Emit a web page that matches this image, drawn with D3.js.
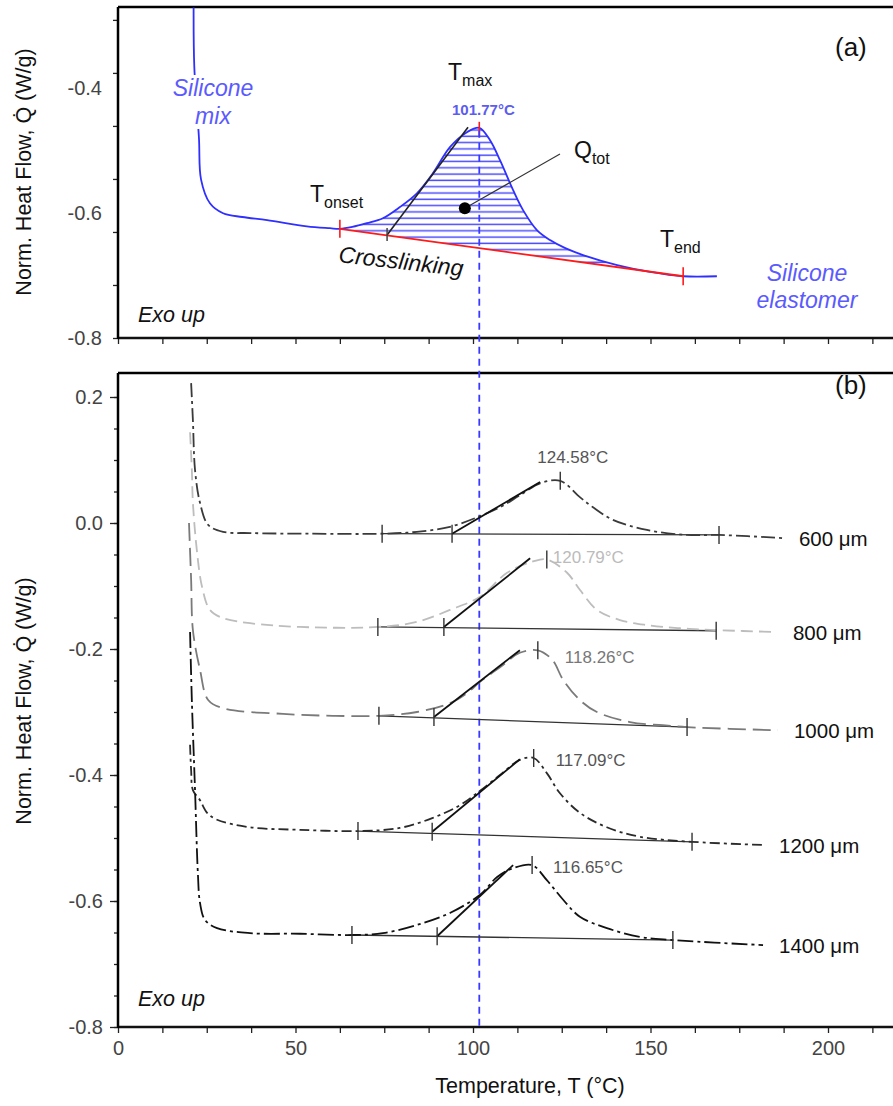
<!DOCTYPE html>
<html><head><meta charset="utf-8">
<script src="https://cdn.jsdelivr.net/npm/d3@7"></script>
<style>
body{margin:0;background:#fff}
svg{display:block}
text{font-family:"Liberation Sans",Arial,Helvetica,sans-serif}
</style>
</head><body>
<svg id="c" width="893" height="1106"></svg>
<script>
// ---------------- DATA ----------------
const xTickVals = [0,12.5,25,37.5,50,62.5,75,87.5,100,112.5,125,137.5,150,162.5,175,187.5,200,212.5];
const xTickLabels = [0,50,100,150,200];
const aYTicks = [-0.8,-0.715,-0.63,-0.545,-0.46,-0.375,-0.29];
const aYLabels = [-0.4,-0.6,-0.8];
const bYTicks = [0.2,0.15,0.1,0.05,0,-0.05,-0.1,-0.15,-0.2,-0.25,-0.3,-0.35,-0.4,-0.45,-0.5,-0.55,-0.6,-0.65,-0.7,-0.75,-0.8];
const bYLabels = [0.2,0.0,-0.2,-0.4,-0.6,-0.8];

// panel (a): silicone mix DSC curve
const aTemp = [21.3,21.5,22.8,23.4,25.9,29.6,35,42,53.2,59.7,62.5,66,70.1,74.6,79.4,84.2,88.7,93.5,98.3,101.77,104.8,107.6,111.3,114.1,118,121.7,126,131,140.6,149.9,159.2,168.7];
const aFlow = [-0.270,-0.366,-0.479,-0.546,-0.584,-0.600,-0.606,-0.611,-0.621,-0.624,-0.625,-0.622,-0.616,-0.608,-0.590,-0.568,-0.536,-0.494,-0.470,-0.463,-0.483,-0.515,-0.563,-0.595,-0.627,-0.643,-0.656,-0.667,-0.683,-0.694,-0.701,-0.701];
const aOnset = [62.5,-0.625];
const aEnd = [159.2,-0.701];
const aPeak = [101.77,-0.463];
const aTangent = [[75.8,-0.635],[98.6,-0.462]];
const aQdot = [97.7,-0.592];
const aQlead = [124.5,-0.505];

// panel (b): thickness series
const names = ["600 μm","800 μm","1000 μm","1200 μm","1400 μm"];
const peakLabels = ["124.58°C","120.79°C","118.26°C","117.09°C","116.65°C"];

const s600T = [20.6,21.1,21.7,23.1,25.4,29.6,37.2,54.1,74.4,84.2,93.5,102,107.6,113.2,118.9,124.58,130.1,133.8,139.4,149,160.3,169.3,187.3];
const s600Q = [0.222,0.163,0.084,0.032,-0.003,-0.014,-0.016,-0.017,-0.017,-0.014,-0.006,0.011,0.025,0.044,0.063,0.067,0.041,0.025,0.005,-0.011,-0.019,-0.019,-0.024];

const s800T = [20.3,20.8,21.1,22.3,23.7,25.9,29.6,37.2,51.3,73.2,84.2,93.5,102,109.6,116.9,120.79,126.5,130.1,134.9,141.4,149,158.3,168.5,185.6];
const s800Q = [0.144,0.084,0.032,-0.048,-0.102,-0.138,-0.151,-0.159,-0.165,-0.165,-0.157,-0.138,-0.117,-0.079,-0.061,-0.058,-0.079,-0.106,-0.138,-0.154,-0.162,-0.167,-0.170,-0.173];

const s1000T = [20.0,20.6,21.1,23.1,25.4,29.6,46.5,60.6,73.5,84.2,93.5,98.3,102,107.6,113.2,118.26,122.3,125.4,130.1,134.9,144.2,153.5,160.3,185.9];
const s1000Q = [0.0,-0.090,-0.170,-0.233,-0.281,-0.294,-0.303,-0.306,-0.306,-0.300,-0.286,-0.270,-0.252,-0.229,-0.206,-0.202,-0.217,-0.249,-0.281,-0.300,-0.316,-0.321,-0.324,-0.329];

const s1200T = [20.3,20.6,21.1,23.1,25.1,27.9,37.2,51.3,67.6,79.4,88.7,96.3,102,107.6,113.2,117.09,120.8,124.5,130.1,137.7,147,161.7,181.7];
const s1200Q = [-0.352,-0.392,-0.424,-0.440,-0.460,-0.471,-0.483,-0.487,-0.489,-0.484,-0.468,-0.448,-0.425,-0.400,-0.376,-0.373,-0.397,-0.429,-0.460,-0.483,-0.498,-0.506,-0.511];

const s1400T = [20.3,20.8,21.7,22.5,23.1,24.5,27.9,37.2,51.3,65.9,74.6,84.2,93.5,102,106.8,111.3,116.65,120.8,125.4,130.1,137.7,147,156.3,181.7];
const s1400Q = [-0.173,-0.281,-0.424,-0.556,-0.603,-0.630,-0.643,-0.651,-0.652,-0.654,-0.651,-0.638,-0.619,-0.590,-0.562,-0.548,-0.543,-0.567,-0.598,-0.625,-0.643,-0.657,-0.662,-0.670];

const onsetT = [74.4,73.2,73.5,67.6,65.9];
const onsetQ = [-0.017,-0.165,-0.306,-0.489,-0.654];
const endT = [169.3,168.5,160.3,161.7,156.3];
const endQ = [-0.019,-0.171,-0.324,-0.506,-0.662];
const tanT0 = [94.1,91.8,89.0,88.5,89.9];
const tanQ0 = [-0.017,-0.165,-0.308,-0.490,-0.656];
const tanT1 = [118.9,116.1,113.2,113.2,111.3];
const tanQ1 = [0.065,-0.056,-0.202,-0.375,-0.543];
const peakT = [124.58,120.79,118.26,117.09,116.65];
const peakQ = [0.067,-0.058,-0.202,-0.373,-0.543];

// ---------------- DRAWING ----------------
const svg = d3.select("#c");
const FONT = '"Liberation Sans",Arial,Helvetica,sans-serif';
const x = d3.scaleLinear().domain([0,200]).range([118,828]);
const yA = d3.scaleLinear().domain([-0.8,-0.4]).range([338,88.5]);
const yB = d3.scaleLinear().domain([-0.8,0.2]).range([1027,397]);
const L = 118, R = 900;
const A = {top:7,bottom:338}, B = {top:373,bottom:1027};

const defs = svg.append("defs");
const pat = defs.append("pattern").attr("id","hatch").attr("patternUnits","userSpaceOnUse")
  .attr("width",20).attr("height",6.3).attr("y",1);
pat.append("line").attr("x1",0).attr("x2",20).attr("y1",3).attr("y2",3)
  .attr("stroke","#4a4aff").attr("stroke-width",1.5);

function axes(y, top, bottom, ticksY, labelsY, labelFmt, majorLen, minorLen, showXLabels, labelGap){
  const g = svg.append("g");
  const ax = d3.axisBottom(x).tickValues(xTickVals).tickSize(6).tickSizeOuter(0)
    .tickFormat(d => showXLabels && xTickLabels.includes(d) ? String(d) : "");
  const gx = g.append("g").attr("transform",`translate(0,${bottom})`).call(ax);
  gx.select(".domain").remove();
  gx.selectAll(".tick line").attr("stroke","#222").attr("stroke-width",1.3);
  gx.selectAll(".tick text").attr("font-size",20).attr("fill","#444").attr("dy","0.95em").style("font-family",FONT);
  const ay = d3.axisLeft(y).tickValues(ticksY).tickSize(minorLen).tickSizeOuter(0).tickFormat("");
  const gy = g.append("g").attr("transform",`translate(${L},0)`).call(ay);
  gy.select(".domain").remove();
  gy.selectAll(".tick line").attr("stroke","#222").attr("stroke-width",1.3);
  const al = d3.axisLeft(y).tickValues(labelsY).tickSize(majorLen).tickSizeOuter(0).tickFormat(labelFmt);
  const gl = g.append("g").attr("transform",`translate(${L},0)`).call(al);
  gl.select(".domain").remove();
  gl.selectAll(".tick line").attr("stroke","#222").attr("stroke-width",1.3);
  gl.selectAll(".tick text").attr("font-size",20).attr("fill","#444").attr("x",-labelGap).style("font-family",FONT);
  g.append("line").attr("x1",L).attr("x2",R).attr("y1",top).attr("y2",top).attr("stroke","#000").attr("stroke-width",2.5);
  g.append("line").attr("x1",L).attr("x2",R).attr("y1",bottom).attr("y2",bottom).attr("stroke","#111").attr("stroke-width",2.5);
  g.append("line").attr("x1",L).attr("x2",L).attr("y1",top).attr("y2",bottom+1).attr("stroke","#000").attr("stroke-width",2.5);
}
axes(yA, A.top, A.bottom, aYTicks, aYLabels, d => d.toFixed(1), 0, 5, false, 16);
axes(yB, B.top, B.bottom, bYTicks, bYLabels, d => d.toFixed(1), 8, 4, true, 15);

function yTitle(cy){
  svg.append("text").attr("transform",`translate(31,${cy}) rotate(-90)`).attr("text-anchor","middle")
    .attr("font-size",21.5).attr("fill","#111").text("Norm. Heat Flow, Q\u0307 (W/g)");
}
yTitle(172); yTitle(701);
svg.append("text").attr("x",530).attr("y",1093).attr("text-anchor","middle").attr("font-size",21.5)
  .attr("fill","#111").text("Temperature, T (°C)");

// ---------- panel (a) ----------
const ptsA = aTemp.map((t,i)=>[t,aFlow[i]]);
const lineA = d3.line().x(d=>x(d[0])).y(d=>yA(d[1])).curve(d3.curveCatmullRom.alpha(0.5));
const sub = ptsA.filter(d => d[0]>=aOnset[0] && d[0]<=aEnd[0]);
svg.append("path").attr("d", lineA(sub) + `L${x(aEnd[0])},${yA(aEnd[1])}L${x(aOnset[0])},${yA(aOnset[1])}Z`)
  .attr("fill","url(#hatch)").attr("stroke","none");
svg.append("path").attr("d",lineA(ptsA)).attr("fill","none").attr("stroke","#2f2fff").attr("stroke-width",1.8);
svg.append("line").attr("x1",x(aOnset[0])).attr("y1",yA(aOnset[1])).attr("x2",x(aEnd[0])).attr("y2",yA(aEnd[1]))
  .attr("stroke","#ff1a1a").attr("stroke-width",1.8);
svg.append("line").attr("x1",x(aTangent[0][0])).attr("y1",yA(aTangent[0][1])).attr("x2",x(aTangent[1][0])).attr("y2",yA(aTangent[1][1]))
  .attr("stroke","#222").attr("stroke-width",1.6);
svg.append("line").attr("x1",x(aTangent[0][0])).attr("x2",x(aTangent[0][0])).attr("y1",yA(aTangent[0][1])-7).attr("y2",yA(aTangent[0][1])+6)
  .attr("stroke","#444").attr("stroke-width",1.5);
[[aOnset,9,9],[aEnd,9,9],[aPeak,6,8]].forEach(([p,u,d])=>{
  svg.append("line").attr("x1",x(p[0])).attr("x2",x(p[0])).attr("y1",yA(p[1])-u).attr("y2",yA(p[1])+d)
    .attr("stroke","#ff1a1a").attr("stroke-width",1.6);
});
svg.append("line").attr("x1",x(aQdot[0])).attr("y1",yA(aQdot[1])).attr("x2",x(aQlead[0])).attr("y2",yA(aQlead[1]))
  .attr("stroke","#333").attr("stroke-width",1.1);
svg.append("circle").attr("cx",x(aQdot[0])).attr("cy",yA(aQdot[1])).attr("r",6).attr("fill","#000");

svg.append("line").attr("x1",x(aPeak[0])).attr("x2",x(aPeak[0])).attr("y1",yA(aPeak[1])+3).attr("y2",yB(-0.8))
  .attr("stroke","#3a3aff").attr("stroke-width",1.8).attr("stroke-dasharray","7,5");

function sublabel(px,py,main,sub,size,subSize,fill){
  const t = svg.append("text").attr("x",px).attr("y",py).attr("font-size",size).attr("fill",fill||"#111");
  t.append("tspan").text(main);
  t.append("tspan").attr("font-size",subSize).attr("dy",6).text(sub);
}
function labelBg(txtSel){
  const b = txtSel.node().getBBox();
  svg.insert("rect", function(){ return txtSel.node(); })
    .attr("x",b.x-2).attr("y",b.y).attr("width",b.width+4).attr("height",b.height).attr("fill","#fff");
}
const mix = svg.append("text").attr("x",213).attr("y",96).attr("text-anchor","middle").attr("font-size",23)
  .attr("font-style","italic").attr("fill","#5a5aff");
mix.append("tspan").attr("x",213).text("Silicone");
mix.append("tspan").attr("x",213).attr("dy",28).text("mix");
labelBg(mix);
sublabel(448,80,"T","max",23,16);
svg.append("text").attr("x",452).attr("y",115).attr("font-size",15).attr("font-weight","bold").attr("fill","#5c5cf0").text("101.77°C");
sublabel(310,202,"T","onset",23,16);
sublabel(574,158,"Q","tot",23,16);
sublabel(660,247,"T","end",23,16);
svg.append("text").attr("transform","translate(338,262) rotate(6.5)").attr("font-size",23).attr("font-style","italic")
  .attr("fill","#111").text("Crosslinking");
const elas = svg.append("text").attr("x",807).attr("y",281).attr("text-anchor","middle").attr("font-size",23)
  .attr("font-style","italic").attr("fill","#5a5aff");
elas.append("tspan").attr("x",807).text("Silicone");
elas.append("tspan").attr("x",807).attr("dy",27).text("elastomer");
svg.append("text").attr("x",138).attr("y",322).attr("font-size",21.5).attr("font-style","italic").attr("fill","#111").text("Exo up");
svg.append("text").attr("x",835).attr("y",56).attr("font-size",26).attr("fill","#111").text("(a)");

// ---------- panel (b) ----------
const series = [
  {T:s600T,Q:s600Q,color:"#3a3a3a",dash:"14,4,3,4",lab:"#555"},
  {T:s800T,Q:s800Q,color:"#bdbdbd",dash:"12,6",lab:"#bbb"},
  {T:s1000T,Q:s1000Q,color:"#7a7a7a",dash:"18,7",lab:"#777"},
  {T:s1200T,Q:s1200Q,color:"#2a2a2a",dash:"10,4,3,4",lab:"#555"},
  {T:s1400T,Q:s1400Q,color:"#111",dash:"16,4,3,4",lab:"#555"}
];
const labOff = [[-23,-18],[6,3],[27,13],[22,8],[21,8]];
const lineB = d3.line().x(d=>x(d[0])).y(d=>yB(d[1])).curve(d3.curveCatmullRom.alpha(0.5));
series.forEach((s,i)=>{
  const pts = s.T.map((t,j)=>[t,s.Q[j]]);
  svg.append("line").attr("x1",x(onsetT[i])).attr("y1",yB(onsetQ[i])).attr("x2",x(endT[i])).attr("y2",yB(endQ[i]))
    .attr("stroke","#333").attr("stroke-width",1.3);
  svg.append("path").attr("d",lineB(pts)).attr("fill","none").attr("stroke",s.color)
    .attr("stroke-width",1.8).attr("stroke-dasharray",s.dash);
  svg.append("line").attr("x1",x(tanT0[i])).attr("y1",yB(tanQ0[i])).attr("x2",x(tanT1[i])).attr("y2",yB(tanQ1[i]))
    .attr("stroke","#111").attr("stroke-width",1.8);
  [[onsetT[i],onsetQ[i]],[tanT0[i],tanQ0[i]],[peakT[i],peakQ[i]],[endT[i],endQ[i]]].forEach(p=>{
    svg.append("line").attr("x1",x(p[0])).attr("x2",x(p[0])).attr("y1",yB(p[1])-9).attr("y2",yB(p[1])+9)
      .attr("stroke","#333").attr("stroke-width",1.4);
  });
  svg.append("text").attr("x",x(peakT[i])+labOff[i][0]).attr("y",yB(peakQ[i])+labOff[i][1]).attr("font-size",17)
    .attr("fill",s.lab).text(peakLabels[i]);
  const last = pts[pts.length-1];
  svg.append("text").attr("x",x(last[0])+16).attr("y",yB(last[1])+8).attr("font-size",20.5).attr("fill","#111").text(names[i]);
});
svg.append("text").attr("x",138).attr("y",1006).attr("font-size",21.5).attr("font-style","italic").attr("fill","#111").text("Exo up");
svg.append("text").attr("x",835).attr("y",394).attr("font-size",26).attr("fill","#111").text("(b)");
</script>
</body></html>
